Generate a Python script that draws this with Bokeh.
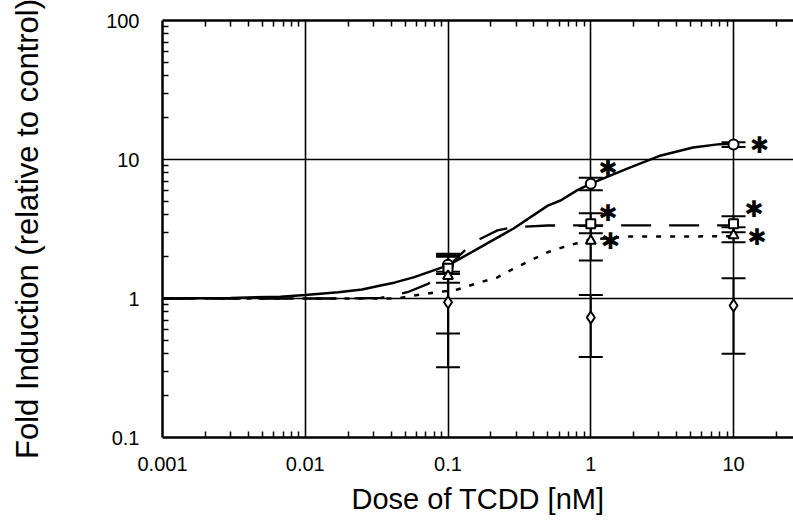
from bokeh.plotting import figure
from bokeh.models import (Range1d, FixedTicker, LogAxis, Whisker, ColumnDataSource,
                          TeeHead, CustomJSTickFormatter)
from bokeh.embed import file_html
from bokeh.resources import INLINE
from bokeh.core.properties import value

# ---------------- data ----------------
doses = [0.1, 1.0, 10.0]

circle_mean = [1.75, 6.7, 12.8]
circle_lo = [1.5, 6.0, 12.3]
circle_hi = [2.05, 7.4, 13.3]

square_mean = [1.65, 3.45, 3.45]
square_lo = [1.3, 2.95, 3.0]
square_hi = [2.1, 4.1, 3.9]

triangle_mean = [1.45, 2.6, 2.85]
triangle_lo = [0.56, 1.88, 2.54]
triangle_hi = [2.0, 3.33, 3.26]

diamond_mean = [0.94, 0.73, 0.89]
diamond_lo = [0.32, 0.38, 0.40]
diamond_hi = [1.56, 1.06, 1.40]

# fitted curves
solid_x = [0.001, 0.003, 0.0067, 0.01, 0.017, 0.025, 0.0337, 0.042, 0.0573, 0.1,
           0.169, 0.288, 0.5, 0.614, 0.8, 1.0, 1.8, 3.1, 5.2, 8.0, 10.0]
solid_y = [1.0, 1.01, 1.03, 1.06, 1.11, 1.16, 1.24, 1.3, 1.42, 1.73,
           2.34, 3.19, 4.66, 5.07, 6.0, 6.7, 8.6, 10.7, 12.2, 12.9, 13.0]

dashed_x = [0.001, 0.01, 0.02, 0.0337, 0.052, 0.073, 0.1, 0.133, 0.169, 0.222,
            0.288, 0.5, 1.0, 10.0]
dashed_y = [1.0, 1.0, 1.0, 1.01, 1.11, 1.28, 1.7, 2.25, 2.69, 3.09,
            3.26, 3.35, 3.36, 3.36]

dotted_x = [0.001, 0.01, 0.03, 0.044, 0.057, 0.116, 0.169, 0.222, 0.288, 0.379,
            0.498, 0.64, 0.845, 1.0, 1.8, 7.2, 10.0]
dotted_y = [1.0, 1.0, 1.0, 1.0, 1.05, 1.16, 1.31, 1.42, 1.64, 1.88,
            2.15, 2.34, 2.54, 2.65, 2.79, 2.8, 2.8]

# significance marks
star_x = [1.32, 1.32, 1.37, 15.2, 13.9, 14.6]
star_y = [8.75, 4.09, 2.61, 12.8, 4.37, 2.75]
star_text = ["\u2731"] * 6

# ticks
x_ticks = [0.001, 0.01, 0.1, 1.0, 10.0]
x_tick_labels = ["0.001", "0.01", "0.1", "1", "10"]
y_ticks = [0.1, 1.0, 10.0, 100.0]
y_tick_labels = ["0.1", "1", "10", "100"]
x_minor = [m * t for t in x_ticks for m in range(2, 10)]
y_minor = [m * t for t in y_ticks[:-1] for m in range(2, 10)]

x_label = "Dose of TCDD [nM]"
y_label = "Fold Induction (relative to control)"

# ---------------- figure ----------------
p = figure(width=793, height=520, x_axis_type="log", y_axis_type="log",
           x_range=Range1d(0.001, 26.3), y_range=Range1d(0.1, 100),
           output_backend="svg", toolbar_location=None,
           min_border_left=162, min_border_right=0, min_border_top=20,
           min_border_bottom=83)
p.outline_line_color = None
p.background_fill_color = "white"
p.border_fill_color = "white"

FONT = "Liberation Sans"

xt = FixedTicker(ticks=x_ticks, minor_ticks=x_minor)
yt = FixedTicker(ticks=y_ticks, minor_ticks=y_minor)

for ax, ticks, labels, tk in ((p.xaxis[0], x_ticks, x_tick_labels, xt),
                              (p.yaxis[0], y_ticks, y_tick_labels, yt)):
    ax.ticker = tk
    ax.major_label_overrides = {t: l for t, l in zip(ticks, labels)}
    ax.axis_line_width = 2.5
    ax.axis_line_color = "black"
    ax.major_tick_in = 0
    ax.major_tick_out = 0
    ax.minor_tick_in = 6
    ax.minor_tick_out = 0
    ax.minor_tick_line_width = 1.5
    ax.minor_tick_line_color = "black"
    ax.major_label_text_font = FONT
    ax.major_label_text_font_size = "20px"
    ax.major_label_text_color = "black"
    ax.axis_label_text_font = FONT
    ax.axis_label_text_font_style = "normal"
    ax.axis_label_text_color = "black"

p.xaxis[0].axis_label = x_label
p.yaxis[0].axis_label = y_label
p.xaxis[0].axis_label_text_font_size = "29px"
p.yaxis[0].axis_label_text_font_size = "31px"
p.xaxis[0].major_label_standoff = 19
p.yaxis[0].major_label_standoff = 23
p.xaxis[0].axis_label_standoff = 9
p.yaxis[0].axis_label_standoff = 58

top = LogAxis(ticker=FixedTicker(ticks=x_ticks, minor_ticks=x_minor),
              formatter=CustomJSTickFormatter(code="return ''"),
              axis_line_width=2.5, axis_line_color="black",
              major_tick_in=0, major_tick_out=0, minor_tick_in=6, minor_tick_out=0,
              minor_tick_line_width=1.5, minor_tick_line_color="black",
              major_label_text_font_size="0px", major_label_standoff=0)
p.add_layout(top, "above")

p.xgrid.ticker = xt
p.ygrid.ticker = yt
for g in (p.xgrid[0], p.ygrid[0]):
    g.grid_line_color = "black"
    g.grid_line_width = 1.6
    g.grid_line_alpha = 1.0

# curves
p.line(solid_x, solid_y, line_color="black", line_width=2.5)
p.line(dashed_x, dashed_y, line_color="black", line_width=2.3, line_dash="30 18")
p.line(dotted_x, dotted_y, line_color="black", line_width=2.5, line_dash="5 9")

# error bars + markers
series = [
    (circle_mean, circle_lo, circle_hi, "circle", 10),
    (square_mean, square_lo, square_hi, "square", 9),
    (triangle_mean, triangle_lo, triangle_hi, "triangle", 10),
    (diamond_mean, diamond_lo, diamond_hi, "diamond", 12),
]
for mean, lo, hi, marker, size in series:
    src = ColumnDataSource(dict(x=doses, y=mean, lo=lo, hi=hi))
    w = Whisker(source=src, base="x", lower="lo", upper="hi", dimension="height",
                line_color="black", line_width=2,
                upper_head=TeeHead(size=24, line_width=2, line_color="black"),
                lower_head=TeeHead(size=24, line_width=2, line_color="black"))
    p.add_layout(w)
for mean, lo, hi, marker, size in series:
    p.scatter(doses, mean, marker=marker, size=size, fill_color="white",
              line_color="black", line_width=2)

p.text(star_x, star_y, text=star_text, text_font=value("DejaVu Sans"),
       text_font_size=value("23px"), text_align="center", text_baseline="middle",
       text_color="black")

open("out.html", "w").write(file_html(p, INLINE))
